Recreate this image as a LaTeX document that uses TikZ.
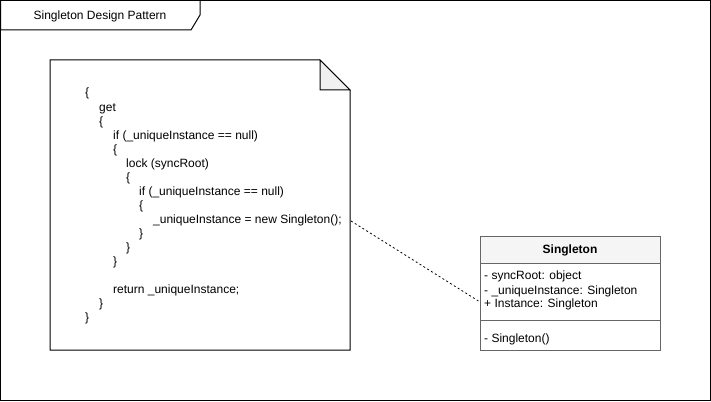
\documentclass[tikz,border=0pt]{standalone}
\usepackage{fontspec}
\setmainfont{Liberation Sans}
\begin{document}
\begin{tikzpicture}[x=1pt,y=-1pt,
  code/.style={anchor=base west,inner sep=0pt,font=\fontsize{12}{14}\selectfont},
  attr/.style={anchor=base west,inner sep=0pt,font=\fontsize{12}{14}\selectfont},
  umlline/.style={draw=umlgray,line width=1pt}]
\definecolor{umlgray}{HTML}{666666}
\definecolor{hdrfill}{HTML}{F5F5F5}
\definecolor{foldfill}{HTML}{F0F0F0}
\useasboundingbox (0,0) rectangle (711,401);
% outer frame
\draw[line width=1pt] (0.5,0.5) rectangle (710,400);
\draw[line width=1pt,fill=white] (0.5,0.5) -- (200,0.5) -- (200,15) -- (191,30) -- (0.5,30) -- cycle;
\node[inner sep=0pt,font=\fontsize{12}{14}\selectfont] (title) at (100,16) {Singleton Design Pattern};
% note
\draw[line width=1pt,fill=white] (50,60) -- (320,60) -- (350,90) -- (350,350) -- (50,350) -- cycle;
\draw[line width=1pt,fill=foldfill] (320,60) -- (320,90) -- (350,90) -- cycle;
\coordinate (noteend) at (351,221);
% code lines
\node[code] (c0) at (85,97) {\{};
\node[code] (c1) at (99,111) {get};
\node[code] (c2) at (99,125) {\{};
\node[code] (c3) at (113,139) {if (\_uniqueInstance == null)};
\node[code] (c4) at (113,153) {\{};
\node[code] (c5) at (126,167) {lock (syncRoot)};
\node[code] (c6) at (126,181) {\{};
\node[code] (c7) at (139,195) {if (\_uniqueInstance == null)};
\node[code] (c8) at (139,209) {\{};
\node[code] (c9) at (153,223) {\_uniqueInstance = new Singleton();};
\node[code] (c10) at (139,237) {\}};
\node[code] (c11) at (126,251) {\}};
\node[code] (c12) at (113,265) {\}};
\node[code] (c13) at (113,293) {return \_uniqueInstance;};
\node[code] (c14) at (99,307) {\}};
\node[code] (c15) at (85,321) {\}};
% class box
\fill[white] (480,236) rectangle (660,350);
\fill[hdrfill] (480,236) rectangle (660,263);
\draw[umlline] (480,263) -- (660,263);
\draw[umlline] (480,320) -- (660,320);
\draw[umlline] (480,236) rectangle (660,350);
\node[inner sep=0pt,font=\fontsize{12}{14}\selectfont\bfseries] (cname) at (570,250) {Singleton};
\node[attr] (a1) at (484,279) {- syncRoot: object};
\node[attr] (a2) at (484,294) {- \_uniqueInstance: Singleton};
\node[attr] (a3) at (484,307) {+ Instance: Singleton};
\node[attr] (m1) at (484,342) {- Singleton()};
\coordinate (clsend) at (480,302);
% connector
\draw[line width=0.8pt,dash pattern=on 2pt off 2.5pt] (noteend) -- (clsend);
\end{tikzpicture}
\end{document}
